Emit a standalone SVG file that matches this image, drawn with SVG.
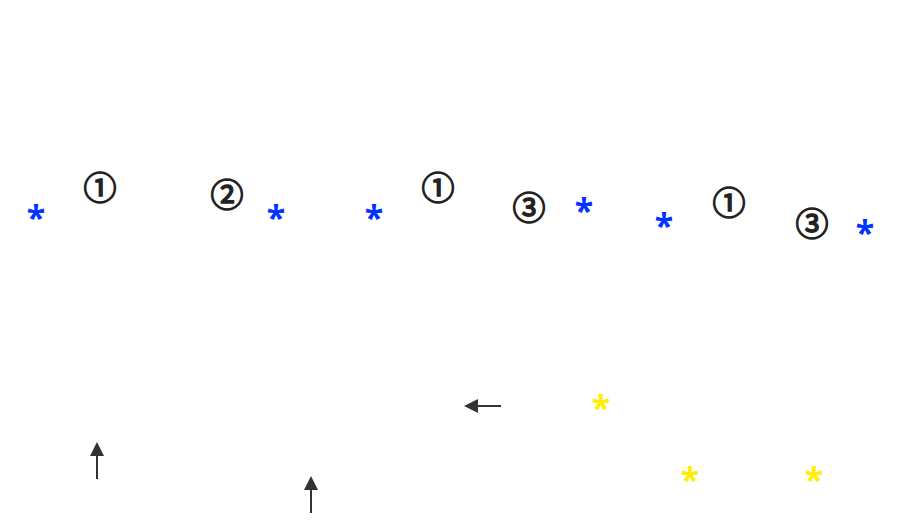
<svg xmlns="http://www.w3.org/2000/svg" width="900" height="531" viewBox="0 0 900 531">
<style>
.c{font-family:"Noto Sans CJK SC",sans-serif;font-size:33px;fill:#222;stroke:#222;stroke-width:1.4;text-anchor:middle;dominant-baseline:central}
.b{font-family:"Noto Sans",sans-serif;font-size:34px;font-weight:bold;fill:#0033ff;text-anchor:middle}
.y{font-family:"Noto Sans",sans-serif;font-size:34px;font-weight:bold;fill:#ffee00;text-anchor:middle}
.l{stroke:#333;stroke-width:2;fill:none}
</style>
<g id="marks">
<text class="b" x="36" y="230">*</text>
<text class="b" x="276" y="230">*</text>
<text class="b" x="374" y="230">*</text>
<text class="b" x="584" y="223">*</text>
<text class="b" x="664" y="238">*</text>
<text class="b" x="865" y="245">*</text>
<text class="c" x="100" y="186">①</text>
<text class="c" x="227" y="193">②</text>
<text class="c" x="438" y="186">①</text>
<text class="c" x="529" y="206">③</text>
<text class="c" x="729" y="201">①</text>
<text class="c" x="812" y="222">③</text>
<text class="y" x="601" y="420">*</text>
<text class="y" x="690" y="492">*</text>
<text class="y" x="814" y="492">*</text>
</g>
<g id="connectors">
<path class="l" d="M501,406 L478,406"/>
<path d="M464,406 L478,399 L478,413 z" fill="#333"/>
<path class="l" d="M97,479 L97,456"/>
<path d="M97,442 L90,456 L104,456 z" fill="#333"/>
<path class="l" d="M311,513 L311,490"/>
<path d="M311,476 L304,490 L318,490 z" fill="#333"/>
</g>
</svg>
